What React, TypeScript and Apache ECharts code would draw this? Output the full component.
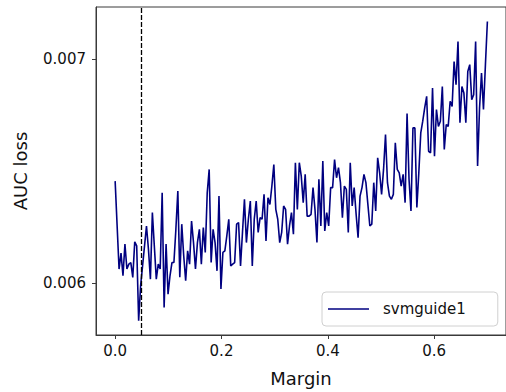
import React, { useEffect, useRef } from "react";
import * as echarts from "echarts";

const seriesName = "svmguide1";
const xLabel = "Margin";
const yLabel = "AUC loss";
const marginMax = 0.7;
const chosenMargin = 0.05;
const xTicks = [0, 0.2, 0.4, 0.6];
const yTicks = [0.006, 0.007];

const aucA = [0.006456,0.006259,0.006064,0.006135,0.006034,0.006175,0.006064,0.006086,0.006093,0.006027,0.006185,0.006167,0.005834,0.005989,0.006078,0.006167,0.006256,0.006152,0.006019,0.006316,0.006167,0.006019,0.006086,0.006064,0.006404,0.005893,0.006175,0.005952,0.006034,0.006093,0.006093];
const aucB = [0.006241,0.006412,0.006027,0.006264,0.006123,0.006012,0.006145,0.006086,0.006278,0.006182,0.006064,0.006182,0.006241,0.006086,0.006249,0.006138,0.006404,0.006508,0.006093,0.006241,0.006182,0.006056,0.006389,0.005975,0.006138,0.006145,0.006212,0.006286,0.006078,0.006086,0.006093,0.006264,0.006271];
const aucC = [0.006078,0.006228,0.006375,0.006182,0.006286,0.006367,0.006078,0.006286,0.006367,0.006227,0.006293,0.006286,0.006397,0.006189,0.006382,0.006352,0.006434,0.00653,0.00633,0.006286,0.006182,0.006227,0.006345,0.00633,0.006175,0.006256,0.006316,0.006219,0.006538,0.00633,0.006538,0.006478,0.00636];
const aucD = [0.006486,0.0063,0.0063,0.006308,0.006427,0.00633,0.006182,0.006464,0.006256,0.006545,0.006234,0.006316,0.006256,0.006427,0.006427,0.006552,0.006471,0.006516,0.006449,0.006293,0.006434,0.006419,0.006227,0.006538,0.006345,0.006427,0.006308,0.006204,0.006389,0.006427,0.006486,0.006449,0.006352];
const aucE = [0.006256,0.006264,0.006449,0.006323,0.00656,0.006493,0.006397,0.006508,0.006664,0.006449,0.006389,0.006375,0.006397,0.006627,0.006508,0.006493,0.006434,0.006486,0.00636,0.006757,0.006464,0.006323,0.006693,0.006693,0.006338,0.006493,0.006671,0.006723,0.006782,0.006834,0.006589,0.006582,0.006871,0.006567];
const aucF = [0.006775,0.0067,0.006723,0.006878,0.006597,0.006708,0.0067,0.006812,0.006789,0.006989,0.006886,0.007078,0.006716,0.006878,0.006849,0.006716,0.006945,0.006975,0.006819,0.006841,0.007078,0.006523,0.006782,0.006938,0.006775,0.006975,0.007167];

const aucLoss = [...aucA, ...aucB, ...aucC, ...aucD, ...aucE, ...aucF];

const FONT = "DejaVu Sans";

export default function App() {
  const ref = useRef<HTMLDivElement>(null);
  useEffect(() => {
    if (!ref.current) return;
    const chart = echarts.init(ref.current, null, { renderer: "svg" });
    const n = aucLoss.length;
    const data = aucLoss.map((v, i) => [(i * marginMax) / (n - 1), v]);
    chart.setOption({
      animation: false,
      backgroundColor: "#ffffff",
      grid: {
        left: 96,
        top: 7,
        width: 411,
        height: 329,
        show: true,
        borderColor: "#3a3a3a",
        borderWidth: 1,
      },
      legend: {
        data: [{ name: seriesName, icon: "rect" }],
        left: 322,
        top: 292,
        orient: "vertical",
        padding: [8, 32, 8, 6],
        itemWidth: 41,
        itemHeight: 1.6,
        backgroundColor: "#ffffff",
        borderColor: "#d0d0d0",
        borderWidth: 1,
        borderRadius: 4,
        textStyle: {
          fontFamily: FONT,
          fontSize: 15,
          lineHeight: 18,
          color: "#111",
          padding: [0, 0, 0, 9],
        },
      },
      xAxis: {
        type: "value",
        min: -0.036,
        max: 0.735,
        name: xLabel,
        nameLocation: "middle",
        nameGap: 34,
        nameTextStyle: { fontFamily: FONT, fontSize: 18, color: "#111" },
        splitLine: { show: false },
        axisLine: { show: true, onZero: false, lineStyle: { color: "#3a3a3a", width: 1 } },
        axisTick: {
          show: true,
          inside: false,
          length: 4,
          customValues: xTicks,
          lineStyle: { color: "#3a3a3a" },
        },
        axisLabel: {
          customValues: xTicks,
          margin: 8,
          fontFamily: FONT,
          fontSize: 15,
          color: "#111",
          formatter: (v: number) => v.toFixed(1),
        },
      },
      yAxis: {
        type: "value",
        min: 0.00577,
        max: 0.007232,
        name: yLabel,
        nameLocation: "middle",
        nameGap: 67,
        nameTextStyle: { fontFamily: FONT, fontSize: 18, color: "#111" },
        splitLine: { show: false },
        axisLine: { show: true, onZero: false, lineStyle: { color: "#3a3a3a", width: 1 } },
        axisTick: {
          show: true,
          inside: false,
          length: 4,
          customValues: yTicks,
          lineStyle: { color: "#3a3a3a" },
        },
        axisLabel: {
          customValues: yTicks,
          margin: 10,
          fontFamily: FONT,
          fontSize: 15,
          color: "#111",
          formatter: (v: number) => v.toFixed(3),
        },
      },
      series: [
        {
          name: seriesName,
          type: "line",
          data,
          symbol: "none",
          showSymbol: false,
          lineStyle: { color: "#000080", width: 1.6 },
          itemStyle: { color: "#000080" },
          markLine: {
            silent: true,
            symbol: "none",
            label: { show: false },
            lineStyle: { color: "#000000", type: [5, 2], width: 1.3 },
            data: [{ xAxis: chosenMargin }],
          },
        },
      ],
    });
    return () => chart.dispose();
  }, []);
  return (
    <div
      ref={ref}
      style={{ position: "fixed", left: 0, top: 0, width: 506, height: 392 }}
    />
  );
}
